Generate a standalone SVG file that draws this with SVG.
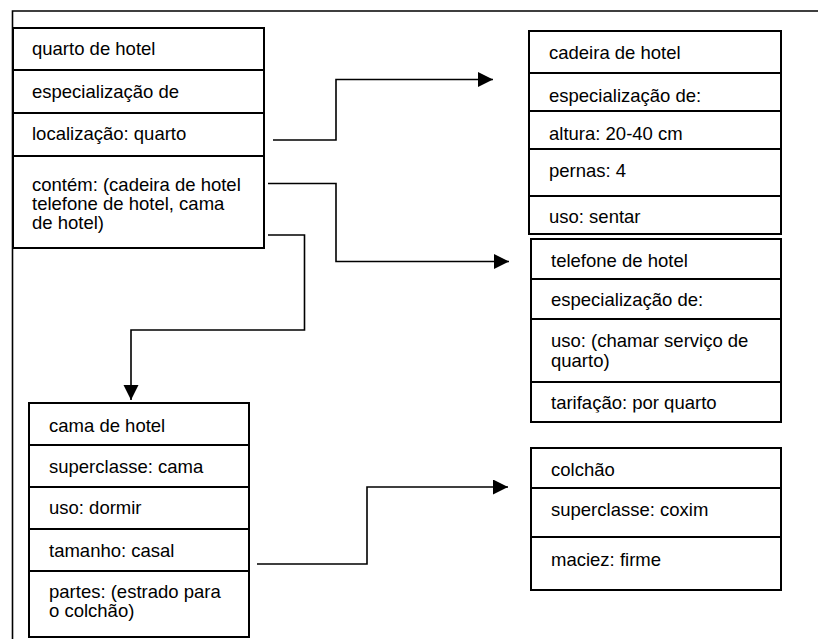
<svg xmlns="http://www.w3.org/2000/svg" width="818" height="639" viewBox="0 0 818 639">
<defs>
<style>
.box{fill:#fff;stroke:#000;stroke-width:2}
.div{stroke:#000;stroke-width:2}
.t{font-family:"Liberation Sans",Arial,sans-serif;font-size:18.5px;fill:#000}
.c{fill:none;stroke:#000;stroke-width:1.6}
.frame{fill:none;stroke:#000;stroke-width:1.6}
</style>
<marker id="ah" markerUnits="userSpaceOnUse" markerWidth="16" markerHeight="16" refX="15" refY="7.5" orient="auto">
<path d="M0,0 L15,7.5 L0,15 z" fill="#000"/>
</marker>
<clipPath id="clipTel"><rect x="531" y="239" width="250" height="173.5"/></clipPath>
</defs>
<rect width="818" height="639" fill="#fff"/>
<path class="frame" d="M12.5,639 V11 H818"/>

<g id="quarto">
<rect class="box" x="13" y="28" width="251" height="220"/>
<path class="div" d="M13,70 H264 M13,113 H264 M13,156 H264"/>
<text class="t" x="32" y="55">quarto de hotel</text>
<text class="t" x="32" y="97.5">especialização de</text>
<text class="t" x="32" y="140">localização: quarto</text>
<text class="t" x="32" y="190.5">contém: (cadeira de hotel</text>
<text class="t" x="32" y="209.5">telefone de hotel, cama</text>
<text class="t" x="32" y="228.5">de hotel)</text>
</g>

<g id="cadeira">
<rect class="box" x="529" y="31" width="252" height="203"/>
<path class="div" d="M529,73 H781 M529,111 H781 M529,149 H781 M529,196 H781"/>
<text class="t" x="549" y="59">cadeira de hotel</text>
<text class="t" x="549" y="101.5">especialização de:</text>
<text class="t" x="549" y="139.5">altura: 20-40 cm</text>
<text class="t" x="549" y="176.5">pernas: 4</text>
<text class="t" x="549" y="222.5">uso: sentar</text>
</g>

<g id="telefone">
<rect class="box" x="531" y="239" width="250" height="183"/>
<path class="div" d="M531,279 H781 M531,319 H781 M531,382 H781"/>
<text class="t" x="551" y="266.5">telefone de hotel</text>
<text class="t" x="551" y="306">especialização de:</text>
<text class="t" x="551" y="346.5">uso: (chamar serviço de</text>
<text class="t" x="551" y="366.5">quarto)</text>
<text class="t" x="551" y="409" clip-path="url(#clipTel)">tarifação: por quarto</text>
</g>

<g id="cama">
<rect class="box" x="29" y="403" width="220" height="234"/>
<path class="div" d="M29,445 H249 M29,487 H249 M29,529 H249 M29,571 H249"/>
<text class="t" x="49" y="431.5">cama de hotel</text>
<text class="t" x="49" y="472.5">superclasse: cama</text>
<text class="t" x="49" y="514">uso: dormir</text>
<text class="t" x="49" y="556.5">tamanho: casal</text>
<text class="t" x="49" y="598">partes: (estrado para</text>
<text class="t" x="49" y="617">o colchão)</text>
</g>

<g id="colchao">
<rect class="box" x="531" y="448" width="250" height="142"/>
<path class="div" d="M531,488 H781 M531,537 H781"/>
<text class="t" x="551" y="476">colchão</text>
<text class="t" x="551" y="516">superclasse: coxim</text>
<text class="t" x="551" y="565.5">maciez: firme</text>
</g>

<g id="connectors">
<path class="c" d="M273,140 H336 V79.5 H493" marker-end="url(#ah)"/>
<path class="c" d="M268,183.5 H336 V261.5 H509" marker-end="url(#ah)"/>
<path class="c" d="M268,235 H304.5 V330 H131 V400" marker-end="url(#ah)"/>
<path class="c" d="M257,564 H367 V487 H508" marker-end="url(#ah)"/>
</g>
</svg>
